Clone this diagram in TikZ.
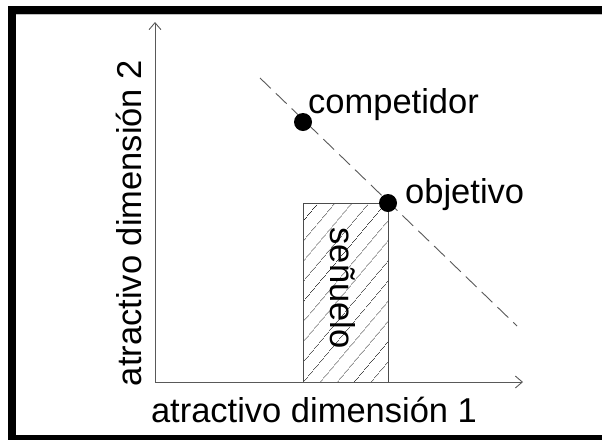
\documentclass[tikz,border=0pt]{standalone}
\usepackage{fontspec}
\setmainfont{Liberation Sans}
\usetikzlibrary{arrows.meta,patterns.meta}
\tikzset{
  axis/.style={draw=black!65, line width=0.9pt, -{Straight Barb[length=7pt,width=12pt]}},
  lbl/.style={font=\fontsize{34.5}{38}\selectfont, inner sep=0pt},
  dotmark/.style={circle, fill=black, minimum size=18pt, inner sep=0pt},
  frameband/.style={fill=black, draw=none},
}
\begin{document}
\begin{tikzpicture}[x=1pt,y=-1pt]
\useasboundingbox (0,0) rectangle (602,440);
\fill[white] (0,0) rectangle (602,440);
% frame
\fill[frameband] (8,6) rectangle (602,14);
\fill[frameband] (8,6) rectangle (16,440);
\fill[frameband] (8,435) rectangle (602,440);
\draw[black!25, line width=0.8pt] (16,14.8) -- (602,14.8);
% axes
\coordinate (o) at (155,382);
\coordinate (ytop) at (155,22);
\coordinate (xend) at (523,382);
% decoy rectangle
\coordinate (r1) at (303,382);
\coordinate (r2) at (388,203);
\fill[pattern={Lines[angle=50,distance=13pt,line width=0.7pt]}, pattern color=black!80] (r1) rectangle (r2);
\draw[black!70, line width=0.9pt] (r1) rectangle (r2);
\draw[axis] (o) -- (ytop);
\draw[axis] (o) -- (xend);
% dashed line
\coordinate (d1) at (260,78);
\coordinate (d2) at (517,326);
\draw[black!65, line width=0.9pt, dash pattern=on 15pt off 7pt] (d1) -- (d2);
% dots
\node[dotmark] (comp) at (303,122) {};
\node[dotmark] (obj) at (388,203) {};
\node[lbl, anchor=base west] (lcomp) at (308,113) {competidor};
\node[lbl, anchor=base west] (lobj) at (405,203) {objetivo};
% axis labels
\node[lbl, anchor=base] (lx) at (314,422) {atractivo dimensión 1};
\node[lbl, anchor=base, rotate=90] (ly) at (141,223) {atractivo dimensión 2};
\node[lbl, rotate=-90] (ls) at (343,288) {señuelo};
\end{tikzpicture}
\end{document}
